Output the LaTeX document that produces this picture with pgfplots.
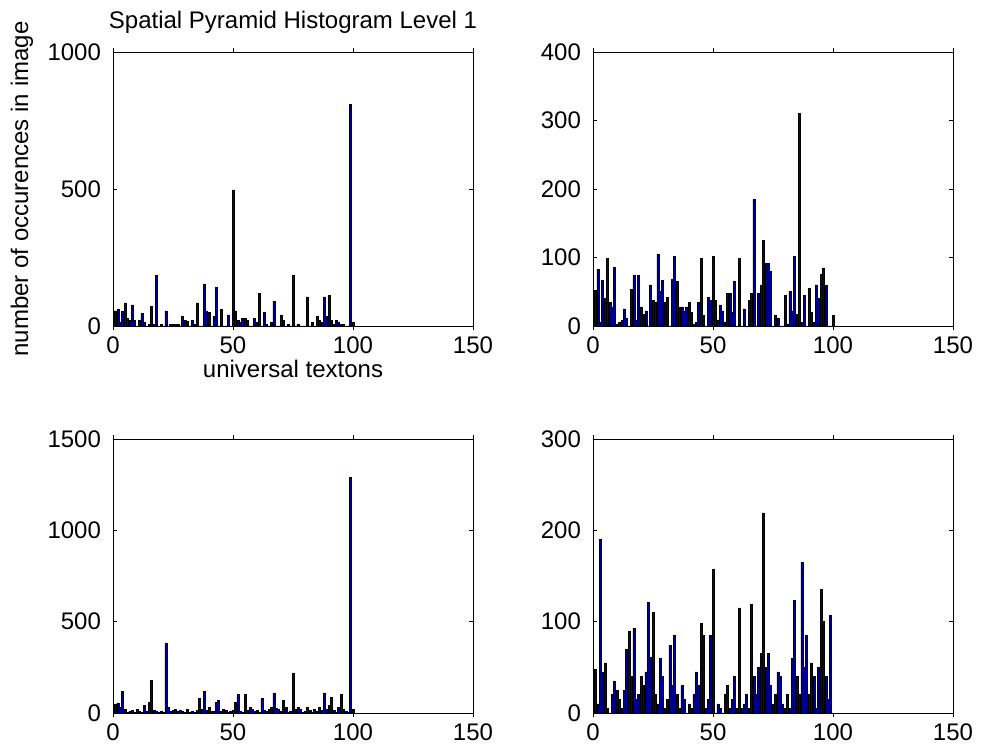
\documentclass[border=0pt]{standalone}
\usepackage{fontspec}
\setmainfont{Liberation Sans}
\usepackage{pgfplots}
\usepackage{pgfplotstable}
\pgfplotsset{compat=1.18}
\definecolor{matbar}{RGB}{0,0,140}

% texton histograms of the four quadrants (tl, tr, bl, br)
\pgfplotstableread{
u tl tr bl br
1 55 52 50 48
2 60 83 55 10
3 15 5 30 190
4 55 67 120 45
5 84 40 20 55
6 27 99 5 5
7 21 34 10 0
8 77 28 15 20
9 21 86 5 35
10 0 3 20 25
11 21 5 10 15
12 47 8 5 5
13 12 25 40 25
14 0 11 10 70
15 6 0 60 89
16 71 54 180 40
17 6 74 15 93
18 184 8 10 15
19 0 74 5 20
20 6 28 10 40
21 0 17 5 30
22 55 22 380 45
23 0 0 30 121
24 5 60 10 61
25 5 37 15 110
26 5 34 20 20
27 5 105 10 10
28 0 51 15 60
29 34 67 10 40
30 21 34 5 5
31 18 42 20 15
32 0 0 5 74
33 21 68 10 30
34 6 102 5 85
35 84 65 15 20
36 0 28 80 5
37 0 28 20 30
38 154 22 120 15
39 55 28 15 0
40 49 34 30 10
41 0 20 10 5
42 34 3 10 20
43 141 5 60 45
44 0 34 70 30
45 61 99 10 98
46 0 15 20 85
47 0 0 15 5
48 41 42 5 15
49 0 37 10 85
50 497 102 15 157
51 55 37 60 0
52 21 9 100 10
53 12 31 10 5
54 27 22 5 0
55 27 6 100 20
56 21 48 15 30
57 0 48 30 5
58 0 20 20 15
59 27 65 10 40
60 12 0 15 5
61 119 99 5 115
62 0 0 80 5
63 49 25 15 10
64 6 0 10 20
65 0 37 20 5
66 12 48 30 119
67 91 185 110 40
68 0 0 25 20
69 0 48 20 50
70 41 60 10 65
71 21 125 70 219
72 0 91 30 50
73 6 91 5 65
74 0 80 10 30
75 184 0 220 10
76 0 15 20 20
77 6 12 30 45
78 0 0 20 40
79 0 0 5 10
80 0 45 10 5
81 106 3 30 20
82 0 51 15 5
83 12 22 5 60
84 0 102 20 123
85 34 17 10 40
86 21 310 30 20
87 12 5 15 165
88 106 45 110 50
89 34 0 20 85
90 112 55 40 20
91 20 20 85 55
92 5 5 15 40
93 20 60 5 5
94 15 40 30 50
95 5 75 100 135
96 5 85 20 100
97 0 60 10 40
98 0 0 5 15
99 810 0 1290 107
100 15 15 20 0
}\hist

\pgfplotsset{
  mat/.style={
    scale only axis, width=180pt, height=137pt, anchor=south west,
    xmin=0, xmax=150, ymin=0, xtick={0,50,100,150},
    tick align=inside, major tick length=1.8pt,
    every tick/.style={black, line width=0.3pt},
    axis line style={line width=0.3pt},
    ticklabel style={font=\fontsize{12}{13}\selectfont},
    yticklabel style={xshift=-2.5pt},
    label style={font=\fontsize{12}{13}\selectfont},
    /pgf/number format/assume math mode=true,
    /pgf/number format/1000 sep={},
    scaled ticks=false,
    ybar, bar width=0.8,
  },
  hbar/.style={fill=matbar, draw=black, line width=0.25pt},
}

\begin{document}
\begin{tikzpicture}
\useasboundingbox (0,0) rectangle (490.5pt,374.5pt);

\begin{axis}[mat, at={(56.5pt,211.5pt)},
    ymax=1000, ytick={0,500,1000},
    title={Spatial Pyramid Histogram Level 1},
    title style={font=\fontsize{12}{13}\selectfont, at={(0.5,1)}, anchor=base, yshift=5.5pt},
    xlabel={universal textons},
    xlabel style={at={(axis description cs:0.5,-0.155)}, anchor=center},
    ylabel={number of occurences in image},
    ylabel style={at={(axis description cs:-0.253,0.5)}, anchor=center}]
\addplot[hbar] table[x=u, y=tl] {\hist};
\end{axis}

\begin{axis}[mat, at={(296.5pt,211.5pt)},
    ymax=400, ytick={0,100,200,300,400}]
\addplot[hbar] table[x=u, y=tr] {\hist};
\end{axis}

\begin{axis}[mat, at={(56.5pt,18pt)},
    ymax=1500, ytick={0,500,1000,1500}]
\addplot[hbar] table[x=u, y=bl] {\hist};
\end{axis}

\begin{axis}[mat, at={(296.5pt,18pt)},
    ymax=300, ytick={0,100,200,300}]
\addplot[hbar] table[x=u, y=br] {\hist};
\end{axis}
\end{tikzpicture}
\end{document}
